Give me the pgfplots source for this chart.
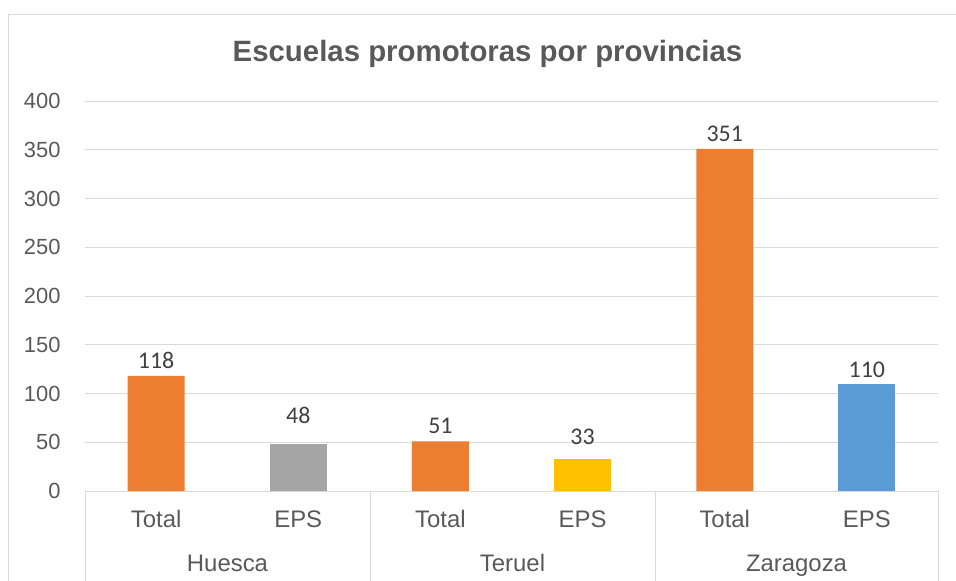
\documentclass[border=0pt]{standalone}
\usepackage{pgfplots}
\pgfplotsset{compat=1.18}
\usepackage{fontspec}
\setmainfont{Liberation Sans}
\newfontfamily\calibri{Carlito}
\definecolor{txt}{HTML}{595959}
\definecolor{lbl}{HTML}{404040}
\definecolor{gridc}{HTML}{D9D9D9}
\definecolor{c1}{HTML}{ED7D31}
\definecolor{c2}{HTML}{A5A5A5}
\definecolor{c3}{HTML}{FFC000}
\definecolor{c4}{HTML}{5B9BD5}
\begin{document}
\begin{tikzpicture}
\useasboundingbox (0,0) rectangle (956bp,-581bp);
\draw[gridc, line width=1bp] (8bp,-581bp) -- (8bp,-14bp) -- (956bp,-14bp);
\node[txt, font=\bfseries\fontsize{29.5}{29.5}\selectfont] at (487.5bp,-54bp) {Escuelas promotoras por provincias};
\begin{axis}[
  at={(85bp,-491bp)}, anchor=south west,
  scale only axis, width=853bp, height=390bp,
  xmin=-0.5, xmax=5.5, ymin=0, ymax=400,
  ytick={0,50,...,400},
  ymajorgrids, grid style={gridc, line width=1bp},
  axis line style={draw=none}, tick style={draw=none},
  xtick={0,...,5},
  xticklabels={Total,EPS,Total,EPS,Total,EPS},
  xticklabel style={anchor=base, yshift=-32bp, font=\fontsize{24}{24}\selectfont, text=txt},
  yticklabel style={font=\fontsize{22}{22}\selectfont, text=txt, xshift=-21bp},
  /pgf/number format/assume math mode=true,
  ybar, bar width=57bp,
  nodes near coords,
  every node near coord/.append style={font=\calibri\fontsize{24}{24}\selectfont, text=lbl, inner sep=2bp, anchor=south},
  clip=false,
]
\addplot[ybar, bar shift=0pt, fill=c1, draw=none, every node near coord/.append style={yshift=5bp}] coordinates {(0,118) (2,51) (4,351)};
\addplot[ybar, bar shift=0pt, fill=c2, draw=none, every node near coord/.append style={yshift=18bp}] coordinates {(1,48)};
\addplot[ybar, bar shift=0pt, fill=c3, draw=none, every node near coord/.append style={yshift=12bp}] coordinates {(3,33)};
\addplot[ybar, bar shift=0pt, fill=c4, draw=none, every node near coord/.append style={yshift=4bp}] coordinates {(5,110)};
\end{axis}
\foreach \x in {85,370,655,938} {\draw[gridc, line width=1bp] (\x bp,-491bp) -- (\x bp,-581bp);}
\node[anchor=base, txt, font=\fontsize{24}{24}\selectfont] at (227.5bp,-571bp) {Huesca};
\node[anchor=base, txt, font=\fontsize{24}{24}\selectfont] at (512.5bp,-571bp) {Teruel};
\node[anchor=base, txt, font=\fontsize{24}{24}\selectfont] at (796.5bp,-571bp) {Zaragoza};
\end{tikzpicture}
\end{document}
